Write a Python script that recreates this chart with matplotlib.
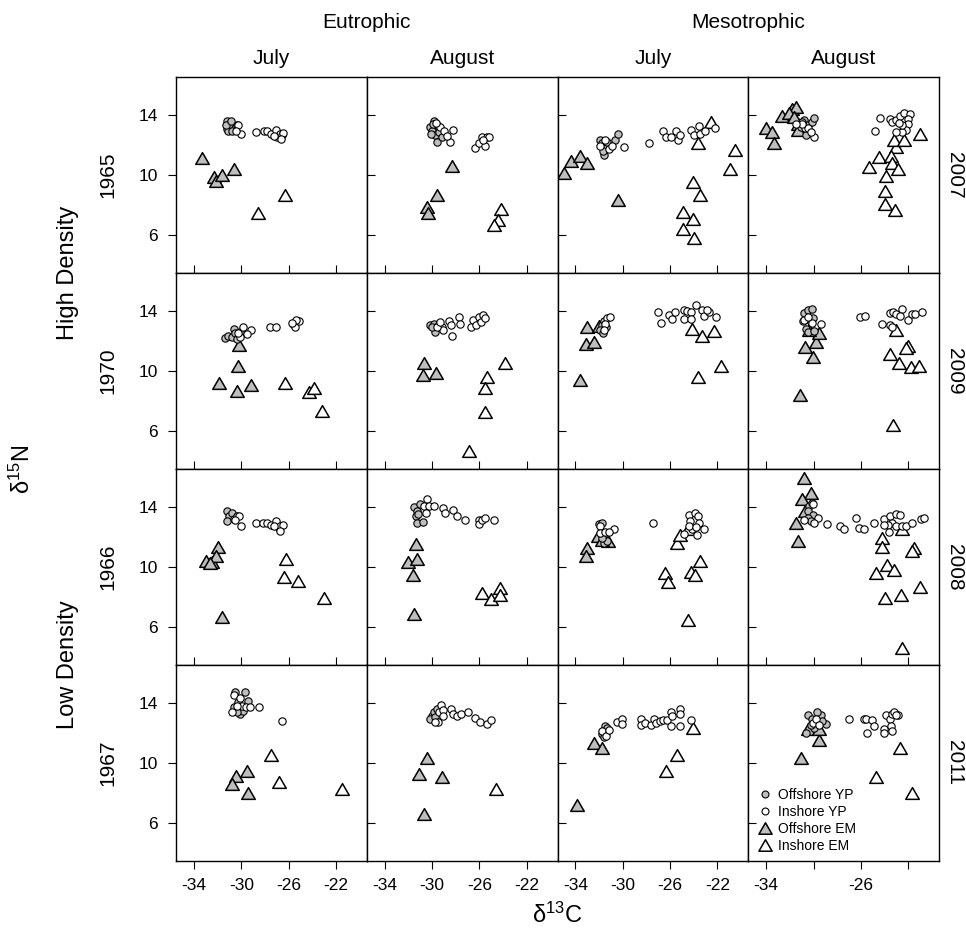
import matplotlib
matplotlib.use("Agg")
import matplotlib.pyplot as plt
from matplotlib.lines import Line2D
from matplotlib.path import Path

plt.rcParams['font.family'] = ['Liberation Sans', 'DejaVu Sans']
plt.rcParams['mathtext.default'] = 'regular'

# ---- data: (d13C, d15N) pairs ----
# row 1: 1965 (eutrophic) / 2007 (mesotrophic)
eut_jul_1965_off_yp = [(-31.2, 13.6), (-31.0, 13.4), (-31.25, 13.05), (-30.75, 13.25), (-31.1, 12.95),
                       (-30.55, 13.1), (-30.8, 12.9), (-30.4, 13.3), (-31.3, 13.3), (-30.9, 13.55)]
eut_jul_1965_in_yp = [(-30.25, 13.3), (-30.0, 12.75), (-30.45, 12.95), (-28.75, 12.85), (-28.05, 12.9),
                      (-27.8, 12.9), (-27.45, 12.75), (-27.05, 13.0), (-26.95, 12.55), (-26.75, 12.7),
                      (-26.55, 12.65), (-26.45, 12.8), (-26.65, 12.4), (-27.25, 12.6)]
eut_jul_1965_off_em = [(-33.3, 11.15), (-32.3, 9.85), (-32.15, 9.6), (-31.6, 10.0), (-30.6, 10.4)]
eut_jul_1965_in_em = [(-28.55, 7.5), (-26.35, 8.7)]

eut_aug_1965_off_yp = [(-29.85, 13.6), (-30.15, 13.2), (-30.0, 12.95), (-29.75, 12.65), (-29.6, 12.2),
                       (-29.45, 12.85), (-29.15, 12.5), (-29.6, 13.3), (-30.1, 12.75), (-29.9, 13.4)]
eut_aug_1965_in_yp = [(-29.3, 13.2), (-29.0, 12.9), (-28.2, 13.0), (-28.5, 12.2), (-28.75, 12.6),
                      (-29.7, 13.45), (-26.35, 11.8), (-26.0, 12.1), (-25.5, 11.9), (-25.75, 12.5),
                      (-25.4, 12.55), (-25.15, 12.55), (-25.7, 12.3)]
eut_aug_1965_off_em = [(-28.3, 10.6), (-29.6, 8.65), (-30.4, 7.85), (-30.35, 7.45)]
eut_aug_1965_in_em = [(-24.15, 7.75), (-24.45, 7.0), (-24.8, 6.7)]

mes_jul_2007_off_yp = [(-31.95, 12.35), (-31.75, 12.1), (-31.45, 11.8), (-31.6, 11.3), (-30.65, 12.3),
                       (-30.4, 12.75), (-31.3, 12.2), (-31.7, 11.6)]
mes_jul_2007_in_yp = [(-31.5, 12.35), (-31.2, 11.7), (-30.9, 11.9), (-29.9, 11.85), (-31.9, 11.9),
                      (-27.75, 12.15), (-26.6, 12.95), (-26.35, 12.55), (-25.9, 12.5), (-25.5, 12.9),
                      (-25.3, 12.3), (-25.2, 12.65), (-24.2, 13.0), (-24.0, 12.65), (-23.6, 13.25),
                      (-23.5, 12.7), (-23.05, 12.9), (-22.2, 13.1)]
mes_jul_2007_off_em = [(-35.0, 10.1), (-34.35, 10.9), (-33.65, 11.25), (-33.05, 10.8), (-30.4, 8.35)]
mes_jul_2007_in_em = [(-22.55, 13.5), (-23.65, 12.1), (-20.55, 11.65), (-20.95, 10.4), (-24.1, 9.55),
                      (-23.5, 8.65), (-24.9, 7.55), (-24.05, 7.05), (-24.9, 6.4), (-24.0, 5.8)]

mes_aug_2007_off_yp = [(-30.8, 13.65), (-30.5, 13.3), (-31.1, 13.2), (-30.1, 13.5), (-30.4, 12.95),
                       (-30.65, 12.65), (-30.95, 13.5), (-29.95, 13.75)]
mes_aug_2007_in_yp = [(-30.7, 13.1), (-30.45, 13.15), (-31.0, 13.35), (-29.95, 12.55), (-30.25, 12.85),
                      (-31.5, 13.4), (-24.4, 13.8), (-24.8, 12.9), (-23.55, 13.7), (-23.4, 13.5),
                      (-23.05, 13.65), (-22.7, 13.9), (-22.35, 14.1), (-21.85, 14.05), (-22.0, 13.7),
                      (-22.05, 13.35), (-22.2, 13.0), (-22.55, 12.85), (-23.0, 12.85), (-22.5, 13.3),
                      (-22.75, 13.45)]
mes_aug_2007_off_em = [(-34.05, 13.1), (-33.5, 12.85), (-33.35, 12.1), (-32.65, 13.9), (-31.8, 14.4),
                       (-31.5, 14.5), (-31.35, 13.4), (-32.05, 14.1), (-31.65, 13.85), (-31.1, 13.2),
                       (-31.3, 13.0)]
mes_aug_2007_in_em = [(-21.0, 12.75), (-23.0, 11.85), (-23.2, 12.35), (-22.35, 12.3), (-24.45, 11.2),
                      (-25.35, 10.55), (-23.45, 11.25), (-23.4, 10.8), (-22.85, 10.4), (-23.9, 9.95),
                      (-24.0, 8.95), (-23.95, 8.05), (-23.1, 7.7)]

# row 2: 1970 / 2009
eut_jul_1970_off_yp = [(-31.4, 12.2), (-31.1, 12.35), (-30.65, 12.8), (-30.8, 12.25), (-30.55, 12.5),
                       (-30.4, 12.15), (-30.1, 12.6)]
eut_jul_1970_in_yp = [(-29.9, 12.9), (-29.2, 12.7), (-29.55, 12.45), (-30.1, 12.25), (-30.25, 12.5),
                      (-27.6, 12.95), (-27.05, 12.9), (-25.65, 13.1), (-25.45, 12.9), (-25.1, 13.3),
                      (-25.4, 13.35), (-25.75, 13.2)]
eut_jul_1970_off_em = [(-30.2, 11.7), (-30.3, 10.3), (-31.9, 9.2), (-30.4, 8.65), (-29.2, 9.05)]
eut_jul_1970_in_em = [(-26.3, 9.2), (-24.25, 8.6), (-23.9, 8.85), (-23.2, 7.35)]

eut_aug_1970_off_yp = [(-30.15, 13.05), (-29.85, 13.15), (-29.75, 12.6), (-30.0, 12.9)]
eut_aug_1970_in_yp = [(-29.45, 13.15), (-29.15, 12.9), (-29.05, 12.75), (-28.55, 13.3), (-28.3, 12.35),
                      (-28.4, 13.05), (-27.75, 13.55), (-27.6, 13.15), (-26.7, 12.9), (-26.5, 13.35),
                      (-26.25, 13.05), (-26.05, 13.55), (-25.85, 13.25), (-25.7, 13.7), (-25.5, 13.5),
                      (-29.6, 12.9), (-29.3, 13.25)]
eut_aug_1970_off_em = [(-30.7, 10.5), (-30.75, 9.75), (-29.7, 9.85)]
eut_aug_1970_in_em = [(-23.8, 10.5), (-25.35, 9.6), (-25.55, 8.9), (-25.5, 7.3), (-26.85, 4.7)]

mes_jul_2009_off_yp = [(-31.8, 13.05), (-31.9, 12.7), (-31.6, 13.3), (-31.45, 12.9), (-31.7, 12.5)]
mes_jul_2009_in_yp = [(-31.3, 13.5), (-31.1, 13.6), (-31.5, 13.15), (-31.55, 12.75), (-27.05, 13.9),
                      (-26.8, 13.2), (-26.1, 13.7), (-25.85, 13.45), (-25.55, 13.9), (-24.85, 14.05),
                      (-24.85, 13.45), (-24.55, 14.0), (-24.2, 13.9), (-24.2, 13.45), (-23.85, 14.35),
                      (-23.3, 14.05), (-23.15, 13.65), (-22.75, 13.9), (-22.1, 13.55), (-22.85, 14.05)]
mes_jul_2009_off_em = [(-33.65, 9.4), (-33.0, 12.9), (-33.1, 11.8), (-32.4, 11.9), (-32.0, 13.0)]
mes_jul_2009_in_em = [(-24.15, 12.8), (-23.35, 12.3), (-22.3, 12.65), (-21.7, 10.3), (-23.65, 9.6)]

mes_aug_2009_off_yp = [(-30.8, 13.85), (-30.45, 14.05), (-30.1, 14.1), (-30.9, 13.3), (-30.65, 12.8),
                       (-30.25, 13.25), (-30.05, 13.5), (-30.5, 12.6), (-29.95, 12.65)]
mes_aug_2009_in_yp = [(-30.1, 13.2), (-29.4, 13.15), (-30.8, 13.35), (-30.45, 13.6), (-26.05, 13.6),
                      (-25.65, 13.65), (-24.25, 13.15), (-23.55, 13.85), (-23.3, 13.9), (-23.0, 13.8),
                      (-22.55, 14.1), (-22.7, 13.65), (-22.0, 13.35), (-21.65, 13.75), (-21.4, 13.8),
                      (-20.8, 13.9), (-23.5, 13.05), (-23.35, 12.9)]
mes_aug_2009_off_em = [(-31.15, 8.4), (-30.75, 11.6), (-30.05, 10.9), (-29.8, 11.9), (-29.5, 12.5),
                       (-30.4, 12.7)]
mes_aug_2009_in_em = [(-23.0, 12.7), (-22.0, 11.65), (-22.2, 11.5), (-23.5, 11.15), (-22.75, 10.55),
                      (-21.8, 10.25), (-21.05, 10.35), (-23.3, 6.4)]

# row 3: 1966 / 2008
eut_jul_1966_off_yp = [(-31.2, 13.7), (-31.0, 13.35), (-31.25, 13.05), (-30.8, 13.55), (-30.65, 13.2),
                       (-30.4, 13.35)]
eut_jul_1966_in_yp = [(-30.2, 13.35), (-30.05, 12.75), (-30.55, 13.1), (-28.75, 12.9), (-28.15, 12.9),
                      (-27.85, 12.9), (-27.45, 12.8), (-27.05, 13.05), (-26.85, 12.6), (-26.7, 12.7),
                      (-26.5, 12.8), (-26.75, 12.4), (-27.25, 12.7)]
eut_jul_1966_off_em = [(-31.95, 11.35), (-33.0, 10.4), (-32.5, 10.35), (-32.1, 10.7), (-32.65, 10.25),
                       (-31.6, 6.7)]
eut_jul_1966_in_em = [(-26.25, 10.5), (-26.4, 9.35), (-25.2, 9.1), (-23.0, 7.95)]

eut_aug_1966_off_yp = [(-31.55, 13.95), (-31.3, 13.7), (-31.4, 13.35), (-31.15, 13.5), (-31.3, 12.9),
                       (-30.75, 13.0), (-31.0, 14.15)]
eut_aug_1966_in_yp = [(-30.4, 14.5), (-30.7, 14.05), (-30.3, 14.05), (-29.8, 14.05), (-29.1, 13.9),
                      (-28.9, 13.6), (-28.25, 13.8), (-27.9, 13.35), (-27.25, 13.1), (-26.05, 13.1),
                      (-26.05, 12.85), (-25.8, 13.1), (-25.5, 13.25), (-24.75, 13.15), (-30.55, 13.6)]
eut_aug_1966_off_em = [(-31.35, 11.5), (-32.0, 10.35), (-31.3, 10.55), (-31.65, 9.5), (-31.55, 6.85)]
eut_aug_1966_in_em = [(-25.8, 8.25), (-25.05, 7.85), (-24.3, 8.6), (-24.25, 8.15)]

mes_jul_2008_off_yp = [(-32.05, 12.85), (-31.8, 12.9), (-31.45, 12.25), (-31.6, 11.6), (-31.3, 11.7),
                       (-31.8, 11.9)]
mes_jul_2008_in_yp = [(-31.9, 12.7), (-31.95, 12.25), (-31.5, 12.3), (-30.75, 12.5), (-31.2, 12.35),
                      (-27.45, 12.95), (-24.4, 13.45), (-23.9, 13.55), (-23.65, 13.4), (-24.3, 13.05),
                      (-23.6, 12.9), (-23.15, 12.5), (-23.7, 12.15), (-24.15, 12.5), (-24.85, 12.2),
                      (-24.4, 12.7), (-23.85, 12.65)]
mes_jul_2008_off_em = [(-33.05, 11.25), (-33.15, 10.75), (-32.1, 12.05), (-31.25, 11.7), (-31.8, 11.8)]
mes_jul_2008_in_em = [(-25.4, 11.6), (-25.15, 12.1), (-24.5, 12.5), (-23.5, 10.4), (-26.45, 9.6),
                      (-26.15, 9.0), (-24.2, 9.65), (-23.9, 9.45), (-24.5, 6.5)]

mes_aug_2008_off_yp = [(-30.4, 14.05), (-30.15, 14.25), (-30.5, 13.7), (-30.05, 13.45), (-30.45, 13.25),
                       (-30.25, 13.05)]
mes_aug_2008_in_yp = [(-30.05, 14.15), (-30.8, 13.15), (-29.6, 13.25), (-29.95, 12.9), (-28.9, 12.85),
                      (-27.8, 12.75), (-27.4, 12.5), (-26.4, 13.25), (-26.2, 12.6), (-25.75, 12.5),
                      (-24.9, 12.95), (-24.05, 13.2), (-23.55, 13.35), (-23.0, 13.5), (-22.7, 13.45),
                      (-23.35, 12.9), (-23.75, 12.8), (-23.05, 12.7), (-22.55, 12.75), (-22.2, 12.7),
                      (-21.65, 12.9), (-20.95, 13.2), (-20.65, 13.25), (-23.65, 12.3), (-24.05, 12.8)]
mes_aug_2008_off_em = [(-30.8, 15.9), (-30.25, 14.9), (-31.0, 14.5), (-30.7, 13.7), (-31.45, 12.9),
                       (-31.35, 11.75)]
mes_aug_2008_in_em = [(-24.25, 11.9), (-24.2, 11.35), (-22.55, 12.5), (-21.55, 11.25), (-21.65, 11.05),
                      (-23.8, 10.15), (-23.2, 9.8), (-24.75, 9.6), (-23.95, 7.95), (-22.65, 8.15),
                      (-21.0, 8.65), (-22.5, 4.6)]

# row 4: 1967 / 2011
eut_jul_1967_off_yp = [(-30.55, 14.7), (-29.7, 14.7), (-30.25, 14.05), (-29.4, 14.1), (-30.65, 13.7),
                       (-30.1, 13.25), (-29.85, 13.45), (-30.4, 13.35)]
eut_jul_1967_in_yp = [(-30.6, 14.5), (-30.1, 14.3), (-29.95, 13.8), (-30.75, 13.35), (-30.4, 13.8),
                      (-29.6, 13.7), (-29.3, 13.7), (-28.5, 13.7), (-26.6, 12.8)]
eut_jul_1967_off_em = [(-30.45, 9.15), (-30.75, 8.6), (-29.5, 9.45), (-29.45, 8.0)]
eut_jul_1967_in_em = [(-27.5, 10.55), (-26.8, 8.75), (-21.45, 8.3)]

eut_aug_1967_off_yp = [(-30.0, 13.15), (-29.85, 13.4), (-29.6, 13.6), (-30.15, 12.95), (-29.75, 13.05)]
eut_aug_1967_in_yp = [(-29.25, 13.85), (-29.45, 13.4), (-29.1, 13.5), (-29.5, 12.75), (-29.05, 13.1),
                      (-28.4, 13.6), (-28.25, 13.25), (-27.9, 13.15), (-27.55, 13.25), (-27.0, 13.4),
                      (-26.35, 13.0), (-25.95, 12.7), (-25.4, 12.6), (-25.05, 12.85), (-29.75, 12.7)]
eut_aug_1967_off_em = [(-30.4, 10.3), (-31.1, 9.25), (-29.15, 9.1), (-30.65, 6.6)]
eut_aug_1967_in_em = [(-24.6, 8.25)]

mes_jul_2011_off_yp = [(-31.5, 12.45), (-31.7, 12.1), (-31.3, 12.3), (-31.8, 11.9), (-31.45, 12.0),
                       (-31.6, 11.75)]
mes_jul_2011_in_yp = [(-31.75, 12.1), (-31.4, 11.8), (-31.15, 12.2), (-30.5, 12.75), (-30.1, 12.95),
                      (-30.1, 12.6), (-28.5, 12.95), (-28.5, 12.5), (-28.15, 12.65), (-27.65, 12.55),
                      (-27.4, 12.95), (-27.2, 12.65), (-26.9, 12.8), (-26.6, 12.85), (-26.25, 12.85),
                      (-25.9, 13.4), (-25.85, 13.1), (-25.95, 12.45), (-25.2, 13.6), (-25.2, 13.25),
                      (-25.2, 12.45), (-24.2, 12.85)]
mes_jul_2011_off_em = [(-33.85, 7.2), (-32.4, 11.35), (-31.75, 11.0)]
mes_jul_2011_in_em = [(-24.05, 12.3), (-25.45, 10.5), (-26.35, 9.5)]

mes_aug_2011_off_yp = [(-30.45, 13.2), (-30.15, 12.9), (-29.8, 12.6), (-29.4, 13.2), (-30.6, 12.0),
                       (-29.95, 12.3), (-29.7, 13.4), (-28.95, 12.6), (-30.25, 12.5), (-29.25, 12.8)]
mes_aug_2011_in_yp = [(-30.05, 12.65), (-29.8, 12.95), (-29.5, 12.5), (-27.0, 12.95), (-25.75, 12.95),
                      (-25.55, 12.95), (-25.45, 12.0), (-25.05, 12.85), (-24.9, 12.45), (-24.05, 12.25),
                      (-24.05, 12.0), (-23.9, 13.2), (-23.55, 12.9), (-23.35, 13.25), (-23.2, 13.35),
                      (-22.9, 13.2), (-23.45, 12.45), (-23.4, 12.1), (-23.05, 13.2)]
mes_aug_2011_off_em = [(-31.1, 10.3), (-29.55, 11.55), (-30.5, 12.25), (-29.55, 12.25)]
mes_aug_2011_in_em = [(-22.7, 11.0), (-24.7, 9.1), (-21.65, 8.0)]

# ---- labels ----
trophic_labels = ["Eutrophic", "Mesotrophic"]
month_labels = ["July", "August", "July", "August"]
left_years = ["1965", "1970", "1966", "1967"]
right_years = ["2007", "2009", "2008", "2011"]
density_labels = ["High Density", "Low Density"]
legend_labels = ["Offshore YP", "Inshore YP", "Offshore EM", "Inshore EM"]
x_ticks = [-34, -30, -26, -22]
x_ticklabels = ["-34", "-30", "-26", "-22"]
x_ticklabels_last = ["-34", "", "-26", ""]
y_ticks = [6, 10, 14]
y_ticklabels = ["6", "10", "14"]

panels = [
    [(eut_jul_1965_off_yp, eut_jul_1965_in_yp, eut_jul_1965_off_em, eut_jul_1965_in_em),
     (eut_aug_1965_off_yp, eut_aug_1965_in_yp, eut_aug_1965_off_em, eut_aug_1965_in_em),
     (mes_jul_2007_off_yp, mes_jul_2007_in_yp, mes_jul_2007_off_em, mes_jul_2007_in_em),
     (mes_aug_2007_off_yp, mes_aug_2007_in_yp, mes_aug_2007_off_em, mes_aug_2007_in_em)],
    [(eut_jul_1970_off_yp, eut_jul_1970_in_yp, eut_jul_1970_off_em, eut_jul_1970_in_em),
     (eut_aug_1970_off_yp, eut_aug_1970_in_yp, eut_aug_1970_off_em, eut_aug_1970_in_em),
     (mes_jul_2009_off_yp, mes_jul_2009_in_yp, mes_jul_2009_off_em, mes_jul_2009_in_em),
     (mes_aug_2009_off_yp, mes_aug_2009_in_yp, mes_aug_2009_off_em, mes_aug_2009_in_em)],
    [(eut_jul_1966_off_yp, eut_jul_1966_in_yp, eut_jul_1966_off_em, eut_jul_1966_in_em),
     (eut_aug_1966_off_yp, eut_aug_1966_in_yp, eut_aug_1966_off_em, eut_aug_1966_in_em),
     (mes_jul_2008_off_yp, mes_jul_2008_in_yp, mes_jul_2008_off_em, mes_jul_2008_in_em),
     (mes_aug_2008_off_yp, mes_aug_2008_in_yp, mes_aug_2008_off_em, mes_aug_2008_in_em)],
    [(eut_jul_1967_off_yp, eut_jul_1967_in_yp, eut_jul_1967_off_em, eut_jul_1967_in_em),
     (eut_aug_1967_off_yp, eut_aug_1967_in_yp, eut_aug_1967_off_em, eut_aug_1967_in_em),
     (mes_jul_2011_off_yp, mes_jul_2011_in_yp, mes_jul_2011_off_em, mes_jul_2011_in_em),
     (mes_aug_2011_off_yp, mes_aug_2011_in_yp, mes_aug_2011_off_em, mes_aug_2011_in_em)],
]

# ---- layout (pixels) ----
W, H = 966, 935
COL_LEFT = [176, 366.75, 557.5, 748.25]
ROW_TOP = [77, 273, 469, 665]
PW, PH = 190.75, 196
GREY = '#bebebe'
# closed equilateral triangle, like R's pch 24
TRI = Path([(-1, -0.866), (1, -0.866), (0, 0.866), (-1, -0.866)],
           [Path.MOVETO, Path.LINETO, Path.LINETO, Path.CLOSEPOLY])


def fx(px):
    return px / W


def fy(py):
    return 1 - py / H


def xy(points):
    return [p[0] for p in points], [p[1] for p in points]


fig = plt.figure(figsize=(W / 100, H / 100), dpi=100)

for r in range(4):
    for c in range(4):
        ax = fig.add_axes([fx(COL_LEFT[c]), fy(ROW_TOP[r] + PH), PW / W, PH / H])
        off_yp, in_yp, off_em, in_em = panels[r][c]
        x, y = xy(off_em)
        ax.scatter(x, y, marker=TRI, s=95, facecolor=GREY, edgecolor='black', linewidth=1.1, zorder=2)
        x, y = xy(in_em)
        ax.scatter(x, y, marker=TRI, s=95, facecolor='white', edgecolor='black', linewidth=1.1, zorder=2)
        x, y = xy(off_yp)
        ax.scatter(x, y, marker='o', s=28, facecolor=GREY, edgecolor='black', linewidth=0.8, zorder=3)
        x, y = xy(in_yp)
        ax.scatter(x, y, marker='o', s=28, facecolor='white', edgecolor='black', linewidth=0.8, zorder=3)

        ax.set_xlim(-35.52, -19.4)
        ax.set_ylim(3.5, 16.5)
        for sp in ax.spines.values():
            sp.set_linewidth(1.0)
        ax.set_xticks(x_ticks)
        ax.set_xticklabels(x_ticklabels_last if c == 3 else x_ticklabels)
        ax.set_yticks(y_ticks)
        ax.set_yticklabels(y_ticklabels)
        ax.tick_params(length=6, width=0.8, labelsize=12.5)
        if c == 0:
            ax.tick_params(axis='y', direction='out', pad=7, labelleft=True)
        else:
            ax.tick_params(axis='y', direction='in', labelleft=False)
        if r == 3:
            ax.tick_params(axis='x', direction='out', pad=6, labelbottom=True)
        else:
            ax.tick_params(axis='x', direction='in', labelbottom=False)

        if r == 3 and c == 3:
            handles = [
                Line2D([], [], ls='', marker='o', ms=5, mfc=GREY, mec='black', mew=0.8),
                Line2D([], [], ls='', marker='o', ms=5, mfc='white', mec='black', mew=0.8),
                Line2D([], [], ls='', marker=TRI, ms=9.5, mfc=GREY, mec='black', mew=1.1),
                Line2D([], [], ls='', marker=TRI, ms=9.5, mfc='white', mec='black', mew=1.1),
            ]
            ax.legend(handles, legend_labels, loc='lower left', bbox_to_anchor=(0.01, 0.0),
                      frameon=False, fontsize=10, handlelength=1.0, handletextpad=0.4,
                      labelspacing=0.2, borderaxespad=0.3, borderpad=0.3)

# strip and margin labels
for i, lab in enumerate(trophic_labels):
    cx = COL_LEFT[2 * i] + PW
    fig.text(fx(cx), fy(28), lab, ha='center', va='baseline', fontsize=15)
for c, lab in enumerate(month_labels):
    fig.text(fx(COL_LEFT[c] + PW / 2), fy(64), lab, ha='center', va='baseline', fontsize=15)
for r in range(4):
    cy = ROW_TOP[r] + PH / 2
    fig.text(fx(108), fy(cy), left_years[r], ha='center', va='center', rotation=90, fontsize=15)
    fig.text(fx(955), fy(cy), right_years[r], ha='center', va='center', rotation=-90, fontsize=15)
for i, lab in enumerate(density_labels):
    cy = ROW_TOP[2 * i] + PH
    fig.text(fx(68), fy(cy), lab, ha='center', va='center', rotation=90, fontsize=17)

fig.text(fx(22), fy(ROW_TOP[2]), 'δ$^{15}$N', ha='center', va='center', rotation=90, fontsize=17)
fig.text(fx(COL_LEFT[2]), fy(915), 'δ$^{13}$C', ha='center', va='center', fontsize=17)

fig.savefig('out.png', dpi=100)
